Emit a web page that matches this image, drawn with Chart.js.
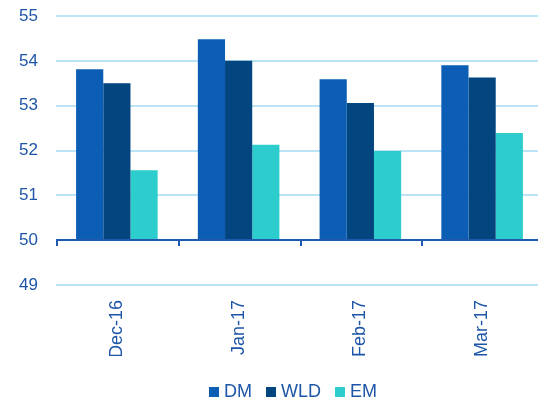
<!DOCTYPE html>
<html>
<head>
<meta charset="utf-8">
<script src="https://cdn.jsdelivr.net/npm/chart.js@4.4.1/dist/chart.umd.min.js"></script>
<style>
  html, body { margin: 0; padding: 0; background: #ffffff; overflow: hidden; }
  #wrap { position: relative; width: 545px; height: 402px; }
</style>
</head>
<body>
<div id="wrap"><canvas id="c"></canvas></div>
<script>
const categories = ['Dec-16', 'Jan-17', 'Feb-17', 'Mar-17'];
const seriesNames = ['DM', 'WLD', 'EM'];
const dmValues = [53.81, 54.48, 53.59, 53.90];
const wldValues = [53.50, 54.00, 53.06, 53.63];
const emValues = [51.56, 52.13, 51.99, 52.39];
const yTickValues = [49, 50, 51, 52, 53, 54, 55];
const barBase = 50;

const colors = ['#0B5EB4', '#03457F', '#2ECDCD'];
const textColor = '#1E56A7';
const gridColor = '#BBE5F7';
const axisColor = '#1F5AAE';
const fontFamily = '"Liberation Sans", Arial, sans-serif';

function swatch(color) {
  const c = document.createElement('canvas');
  c.width = 10; c.height = 10;
  const g = c.getContext('2d');
  g.fillStyle = color;
  g.fillRect(0, 0, 10, 10);
  return c;
}

const axisPlugin = {
  id: 'axisAt50',
  afterLayout(chart) {
    const lg = chart.legend;
    if (lg) {
      const pad = lg.options.labels.padding;
      const dy = (392 - pad - 9) - lg.top;
      lg.top += dy; lg.bottom += dy;
      const dx = (209 + 4 - pad) - lg.left;
      lg.left += dx;
    }
  },
  afterDatasetsDraw(chart) {
    const x = chart.scales.x, y = chart.scales.y, ctx = chart.ctx;
    const yy = Math.round(y.getPixelForValue(barBase));
    ctx.save();
    ctx.strokeStyle = axisColor;
    ctx.lineWidth = 2;
    ctx.beginPath();
    ctx.moveTo(chart.chartArea.left, yy);
    ctx.lineTo(chart.chartArea.right, yy);
    ctx.stroke();
    const step = x.getPixelForValue(1) - x.getPixelForValue(0);
    ctx.beginPath();
    for (let i = 0; i <= categories.length; i++) {
      const px = Math.round(x.getPixelForValue(i) - step / 2) + 1;
      ctx.moveTo(px, yy);
      ctx.lineTo(px, yy + 6);
    }
    ctx.stroke();
    ctx.restore();
  }
};

const datasets = [dmValues, wldValues, emValues].map((vals, i) => ({
  label: seriesNames[i],
  data: vals,
  base: barBase,
  backgroundColor: colors[i],
  borderWidth: 0,
  categoryPercentage: 0.67,
  barPercentage: 1.0
}));

new Chart(document.getElementById('c'), {
  type: 'bar',
  data: { labels: categories, datasets },
  plugins: [axisPlugin],
  options: {
    responsive: true,
    maintainAspectRatio: false,
    animation: false,
    events: [],
    layout: { padding: { top: 16, right: 2, left: 0, bottom: 0 } },
    plugins: {
      tooltip: { enabled: false },
      legend: {
        position: 'bottom',
        align: 'start',
        labels: {
          color: textColor,
          font: { family: fontFamily, size: 18 },
          usePointStyle: true,
          pointStyleWidth: 2,
          boxHeight: 10,
          padding: 18,
          generateLabels(chart) {
            return chart.data.datasets.map((ds, i) => ({
              text: ds.label,
              fillStyle: colors[i],
              strokeStyle: colors[i],
              lineWidth: 0,
              pointStyle: swatch(colors[i]),
              fontColor: textColor,
              hidden: false,
              datasetIndex: i
            }));
          }
        }
      }
    },
    scales: {
      x: {
        offset: true,
        grid: { display: false, drawTicks: false },
        border: { display: false },
        ticks: {
          color: textColor,
          font: { family: fontFamily, size: 18 },
          minRotation: 90,
          maxRotation: 90,
          autoSkip: false,
          padding: 15
        },
        afterFit(scale) { scale.height = 71; scale.paddingLeft = 0; scale.paddingRight = 0; }
      },
      y: {
        min: yTickValues[0],
        max: yTickValues[yTickValues.length - 1],
        afterBuildTicks(scale) { scale.ticks = yTickValues.map(v => ({ value: v })); },
        grid: { color: gridColor, lineWidth: 2, drawTicks: false },
        border: { display: false },
        ticks: {
          color: textColor,
          font: { family: fontFamily, size: 17 },
          padding: 18
        },
        afterFit(scale) { scale.width = 56; scale.paddingTop = 0; scale.paddingBottom = 0; }
      }
    }
  }
});
</script>
</body>
</html>
